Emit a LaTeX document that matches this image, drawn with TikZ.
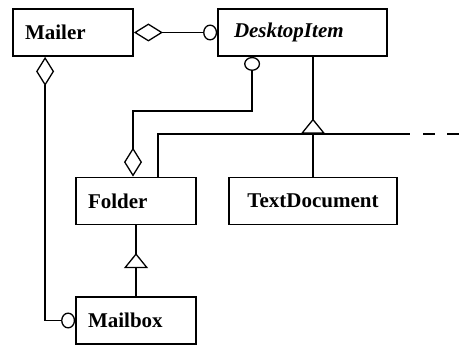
\documentclass[tikz,border=0pt]{standalone}
\usepackage{fontspec}
\setmainfont{Liberation Serif}
\usetikzlibrary{arrows.meta,decorations.markings}
\tikzstyle{cls} = [draw, line width=1.8pt, minimum height=47pt, inner ysep=0pt, font=\fontsize{21}{24}\selectfont\bfseries]
\tikzstyle{leftcls} = [cls, text width=96pt, inner xsep=12pt, align=left]
\tikzstyle{isaline} = [postaction={decorate}]
\tikzset{agg/.tip={Diamond[open,length=29pt,width=18pt]},
  use/.tip={Circle[open,length=14pt,width=16pt]},
  isa/.tip={Triangle[open,fill=white,length=15pt,width=24pt]}}

\begin{document}
\begin{tikzpicture}[x=1pt, y=-1pt, line width=1.3pt]
    \useasboundingbox (0,0) rectangle (465,345);
    \draw (73,32.5) node[leftcls] (mailer) {Mailer};
    \draw (302.5,32.5) node[cls, text width=137pt, inner xsep=16pt, align=left] (item) {\itshape DesktopItem};
    \draw (136,201) node[leftcls] (folder) {Folder};
    \draw (313,201) node[cls, minimum width=168pt, align=center] (doc) {TextDocument};
    \draw (136,320.5) node[leftcls] (mailbox) {Mailbox};
    \coordinate (joint) at (doc.north |- 0,134);
    \coordinate (more) at (410,134);
    \coordinate (dots) at (423,134);
    \coordinate (edge) at (465,134);
    \draw [{agg}-{use}] (mailer) -- (item);
    \draw [{agg}-{use}] ([xshift=33pt]mailer.south west) |- (mailbox.west);
    \draw [{use}-{agg}] ([xshift=35pt]item.south west) -- ++(0,54) -| ([xshift=-3pt]folder.north);
    \draw [isaline, decoration={markings, mark=at position 58pt with {\arrow{isa}}}] (doc.north) -- (doc.north |- item.south);
    \draw ([xshift=-39pt]folder.north east) |- (joint) -- (more);
    \draw [dash pattern=on 12pt off 12pt] (dots) -- (edge);
    \draw [isaline, decoration={markings, mark=at position 43pt with {\arrow{isa}}}] (mailbox.north) -- (folder.south);
\end{tikzpicture}
\end{document}
